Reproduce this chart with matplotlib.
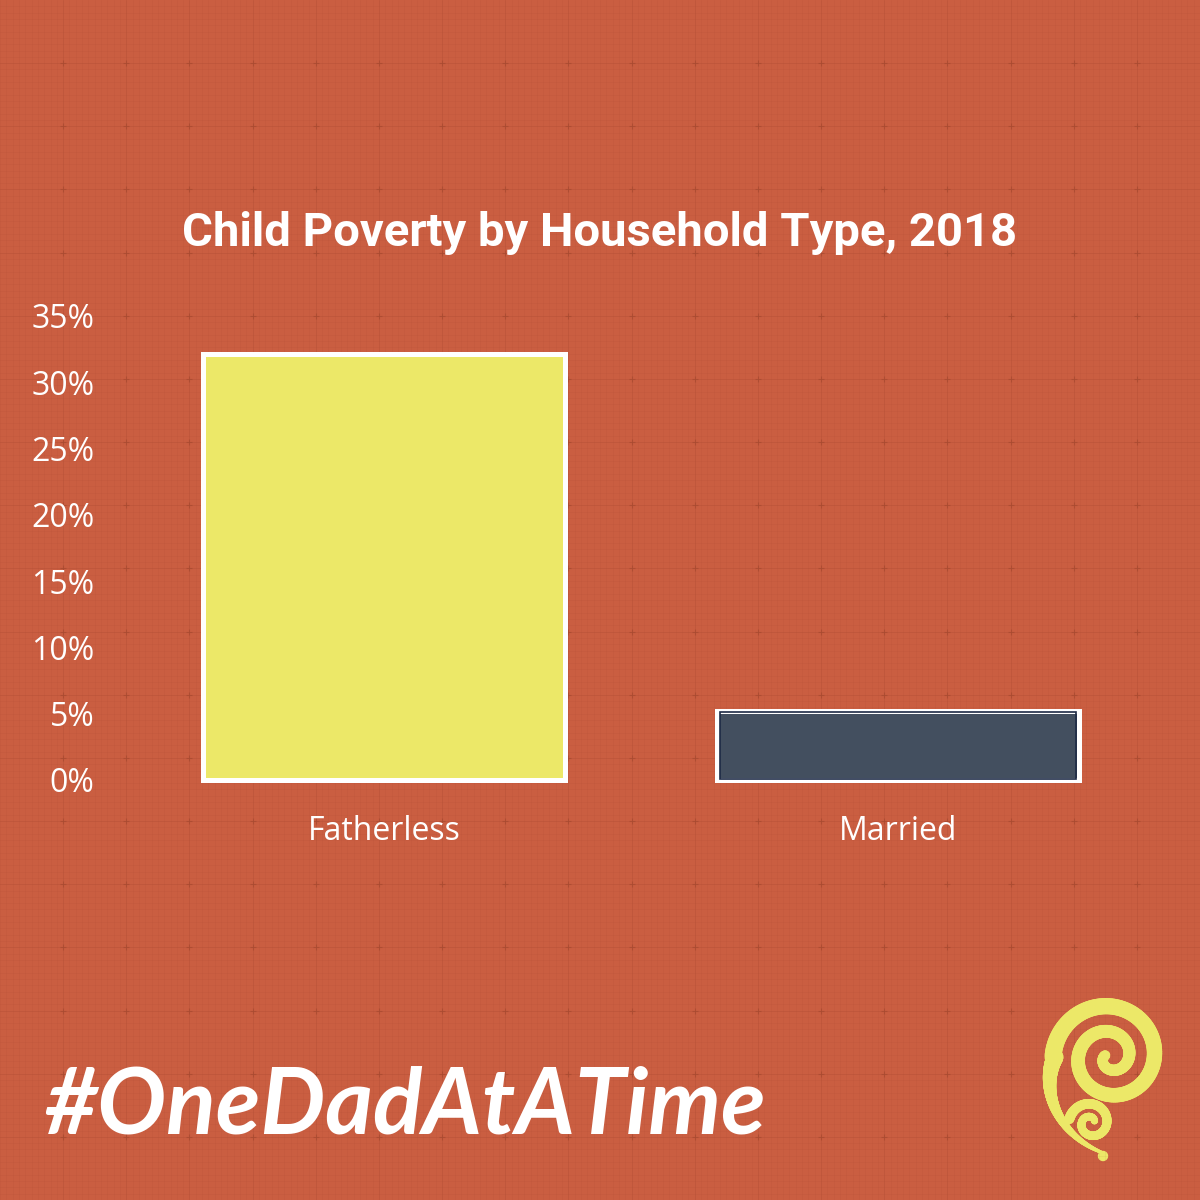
import numpy as np
import matplotlib.pyplot as plt
from matplotlib.collections import LineCollection
from matplotlib.patches import Circle
from matplotlib.ticker import FuncFormatter

# data
categorias = ["Fatherless", "Married"]
valores = [32.1, 5.2]
cores_barras = ["#ECE868", "#434F5F"]
yticks = [0, 5, 10, 15, 20, 25, 30, 35]

titulo = "Child Poverty by Household Type, 2018"
hashtag = "#OneDadAtATime"

fundo = "#CA5E41"

fig = plt.figure(figsize=(12, 12), dpi=100)
fig.patch.set_facecolor(fundo)

# fundo quadriculado + logo (camada em pixels)
bg = fig.add_axes([0, 0, 1, 1], zorder=0)
bg.set_xlim(0, 1200)
bg.set_ylim(0, 1200)
bg.axis("off")
passo = 1200 / 19
for v in np.arange(0, 1200, passo / 10):
    bg.axvline(v, color="#9a4128", lw=0.5, alpha=0.10)
    bg.axhline(v, color="#9a4128", lw=0.5, alpha=0.10)
for v in np.arange(passo, 1200, passo):
    bg.axvline(v, color="#9a4128", lw=0.6, alpha=0.14)
    bg.axhline(v, color="#9a4128", lw=0.6, alpha=0.14)
cx, cy = np.meshgrid(np.arange(passo, 1200, passo), np.arange(passo, 1200, passo))
bg.scatter(cx.ravel(), cy.ravel(), marker="+", s=22, color="#8a3a25", lw=0.8, alpha=0.35)


def espiral(ax, x0, y0, t0, t1, r0, r1, w0, w1, cor):
    t = np.radians(np.linspace(t0, t1, 300))
    r = np.linspace(r0, r1, 300)
    x = x0 + r * np.cos(t)
    y = y0 + r * np.sin(t)
    pts = np.column_stack([x, y]).reshape(-1, 1, 2)
    segs = np.concatenate([pts[:-1], pts[1:]], axis=1)
    larg = np.linspace(w0, w1, len(segs)) * 0.72
    ax.add_collection(LineCollection(segs, linewidths=larg, colors=cor, capstyle="round"))


amarelo = "#ECE868"
# espiral principal
espiral(bg, 1110, 143, 180, -560, 57, 5, 17, 10, amarelo)
# cauda
espiral(bg, 1112, 143, 264, 180, 96, 57, 3, 17, amarelo)
# espiral pequena
espiral(bg, 1091, 77, 170, -330, 22, 4, 10, 7, amarelo)
bg.add_patch(Circle((1103, 44), 4.5, color=amarelo))

# grafico de barras
ax = fig.add_axes([0.11, 0.35, 0.848, 0.3867], zorder=2)
ax.patch.set_alpha(0)
x = np.arange(len(categorias))
barras = ax.bar(x, valores, width=0.705, color=cores_barras, edgecolor="white",
                linewidth=3.6, zorder=3)
for b in barras:
    b.set_clip_on(False)
interno = ax.bar(x[1], valores[1] - 0.09, bottom=0.045, width=0.705 - 0.012, color="none",
                 edgecolor="#1d2a45", linewidth=1.2, zorder=4)
ax.set_xlim(-0.49, 1.49)
ax.set_ylim(0, 35)
ax.set_yticks(yticks)
ax.yaxis.set_major_formatter(FuncFormatter(lambda v, p: f"{v:.0f}%"))
ax.set_xticks(x)
ax.set_xticklabels(categorias)
for s in ax.spines.values():
    s.set_visible(False)
ax.tick_params(length=0, colors="white", labelsize=23)
ax.tick_params(axis="y", pad=27)
ax.tick_params(axis="x", pad=25)
for lbl in ax.get_xticklabels() + ax.get_yticklabels():
    lbl.set_family(["Open Sans", "DejaVu Sans"])

fig.text(0.5, 1 - 233 / 1200, titulo, ha="center", va="center", color="white",
         fontsize=34, fontweight="bold", family=["Roboto", "DejaVu Sans"])

fig.text(405 / 1200, 1 - 1108 / 1200, hashtag, ha="center", va="center", color="white",
         fontsize=66, fontweight="bold", style="italic", family=["Lato", "DejaVu Sans"])

fig.savefig("out.png", dpi=100, facecolor=fundo)
